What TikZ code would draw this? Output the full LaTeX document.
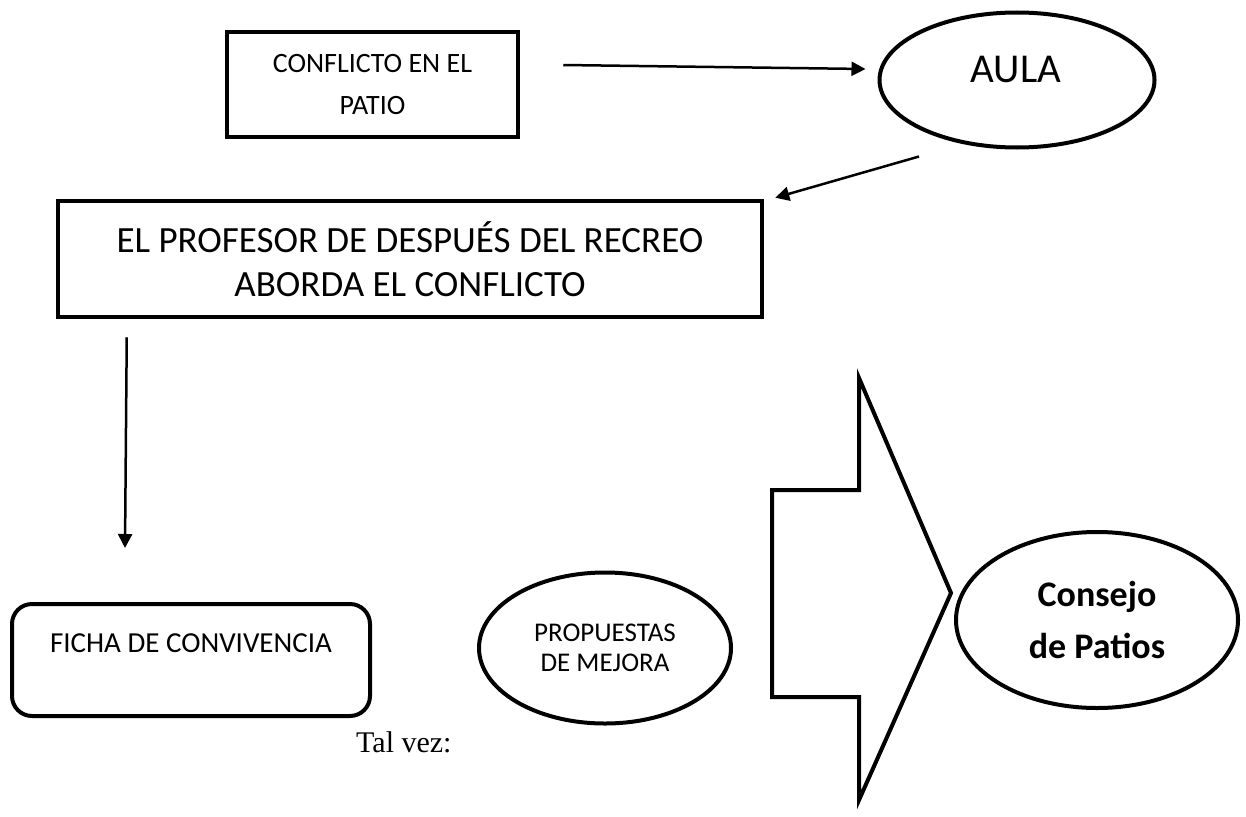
\documentclass[tikz,border=0pt]{standalone}
\usepackage{fontspec}
\setmainfont{Carlito}
\newfontfamily\timesfont{Liberation Serif}
\usetikzlibrary{shapes.geometric,arrows.meta}
\tikzset{
	caja/.style={draw, line width=4.5pt, rectangle, inner sep=0pt, align=center},
	ovalo/.style={draw, line width=4pt, ellipse, inner sep=0pt, align=center},
	texto/.style={inner sep=0pt, align=center},
	flecha/.style={line width=2.5pt, -{Triangle[length=14pt,width=14pt]}}
}

\begin{document}
\begin{tikzpicture}[x=1pt, y=-1pt]
			%%%%% START %%%%%
			\useasboundingbox (0, 0) rectangle (1246, 816);
			
			\node[caja, minimum width=291pt, minimum height=105pt, font=\fontsize{28}{42}\selectfont] (conflicto) at (372.5, 84.5) {CONFLICTO EN EL\\PATIO};
			
			\node[ovalo, minimum width=275pt, minimum height=135pt] (aula) at (1017, 80) {};
			\node[texto, font=\fontsize{41}{48}\selectfont] (aulatxt) at (1016, 69) {AULA};
			
			\node[caja, minimum width=704pt, minimum height=116pt, font=\fontsize{37}{44}\selectfont] (profesor) at (410, 259) {EL PROFESOR DE DESPUÉS DEL RECREO\\ABORDA EL CONFLICTO};
			
			\node[caja, line width=4pt, rounded corners=20pt, minimum width=358pt, minimum height=112pt] (ficha) at (191, 660) {};
			\node[texto, font=\fontsize{29}{35}\selectfont] (fichatxt) at (191, 643) {FICHA DE CONVIVENCIA};
			
			\node[ovalo, minimum width=252pt, minimum height=151pt, font=\fontsize{27}{30}\selectfont] (propuestas) at (605, 648) {PROPUESTAS\\DE MEJORA};
			
			\node[texto, anchor=base west, font=\timesfont\fontsize{30}{36}\selectfont] (talvez) at (356, 752) {Tal vez:};
			
			% flecha grande
			\draw[line width=4pt, line join=miter] (772, 490) -- (859, 490) -- (859, 378) -- (951, 593) -- (859, 800) -- (859, 697) -- (772, 697) -- cycle;
			
			\node[ovalo, minimum width=282pt, minimum height=176pt, font=\bfseries\fontsize{36}{52}\selectfont] (consejo) at (1097, 620) {Consejo\\de Patios};
			
			% conectores
			\draw[flecha] ([shift={(43, -19.5)}]conflicto.east) -- ([shift={(-12, -11)}]aula.west);
			\draw[flecha] ([shift={(-98, 7)}]aula.south) -- ([shift={(11, -1)}]profesor.north east);
			\draw[flecha] ([shift={(71, 18)}]profesor.south west) -- ([shift={(115, -54)}]ficha.north west);
			%%%%% END %%%%%
\end{tikzpicture}
\end{document}
